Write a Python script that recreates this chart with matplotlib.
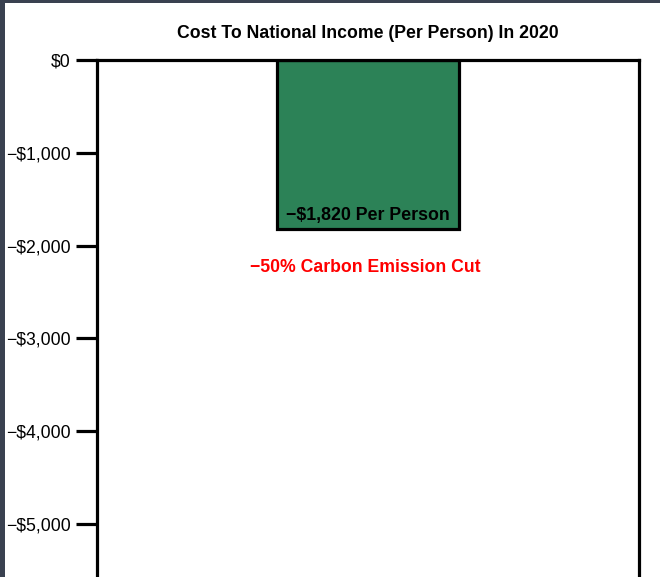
import matplotlib.pyplot as plt
from matplotlib.ticker import FuncFormatter

plt.rcParams['font.family'] = ['Liberation Sans', 'DejaVu Sans']

categories = ['-50% Carbon Emission Cut']
cost_per_person = [-1820]
yticks = [0, -1000, -2000, -3000, -4000, -5000]

fig = plt.figure(figsize=(6.6, 5.77), dpi=100)
fig.patch.set_facecolor('#3a4150')

# white page with a dark frame on the top and left edges
page = fig.add_axes([5 / 660, 0, 655 / 660, 1 - 3 / 577])
page.set_facecolor('white')
page.set_xticks([])
page.set_yticks([])
for s in page.spines.values():
    s.set_visible(False)

ax = fig.add_axes([97 / 660, 0, 542 / 660, 1 - 60 / 577])
ax.bar([0], cost_per_person, width=0.335, color='#2c8257',
       edgecolor='black', linewidth=2.3, align='center')
ax.set_xlim(-0.5, 0.5)
ax.set_ylim(-5570, 0)

ax.set_xticks([])
ax.set_yticks(yticks)
ax.yaxis.set_major_formatter(FuncFormatter(
    lambda v, p: '$0' if v == 0 else '\u2212${:,.0f}'.format(abs(v))))
ax.tick_params(axis='y', length=15, width=2.3, labelsize=12.7, pad=4)

for side in ['top', 'left', 'right']:
    ax.spines[side].set_linewidth(2.3)
ax.spines['bottom'].set_visible(False)

val = cost_per_person[0]
ax.text(0, val + 50, '\u2212${:,} Per Person'.format(abs(val)),
        ha='center', va='bottom', fontsize=12.8, fontweight='bold')
ax.text(-0.005, val - 420, '\u221250% Carbon Emission Cut',
        ha='center', va='center', fontsize=12.7, fontweight='bold', color='red')

ax.set_title('Cost To National Income (Per Person) In 2020',
             fontsize=12.7, fontweight='bold', pad=16)

fig.savefig('out.png', dpi=100)
